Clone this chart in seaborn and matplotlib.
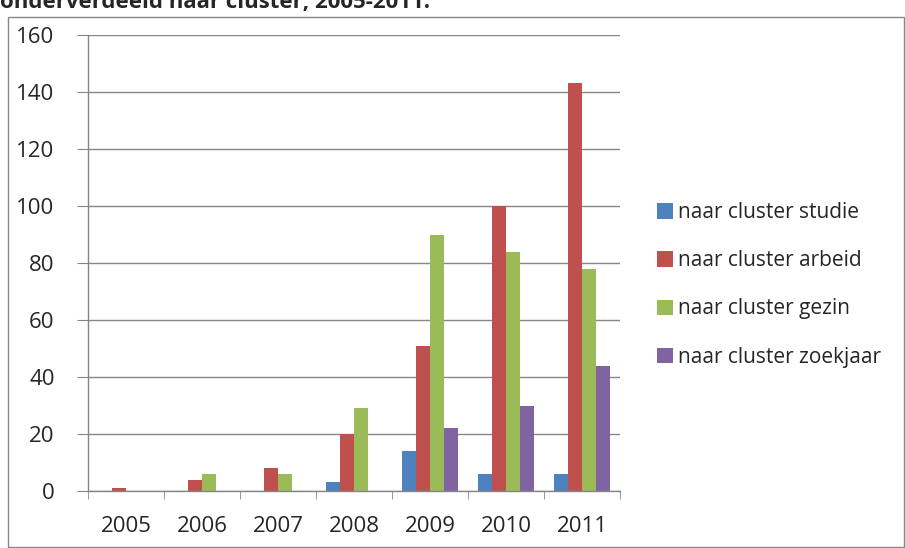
import numpy as np
import pandas as pd
import seaborn as sns
import matplotlib.pyplot as plt
from matplotlib.patches import Rectangle

# data
years = ["2005", "2006", "2007", "2008", "2009", "2010", "2011"]
studie = [0, 0, 0, 3, 14, 6, 6]
arbeid = [1, 4, 8, 20, 51, 100, 143]
gezin = [0, 6, 6, 29, 90, 84, 78]
zoekjaar = [0, 0, 0, 0, 22, 30, 44]
series = ["naar cluster studie", "naar cluster arbeid", "naar cluster gezin", "naar cluster zoekjaar"]
colors = ["#4F81BD", "#C0504D", "#9BBB59", "#8064A2"]

df = pd.DataFrame({"jaar": years * 4,
                   "reeks": np.repeat(series, len(years)),
                   "waarde": studie + arbeid + gezin + zoekjaar})

sns.set_style("white")
plt.rcParams["font.family"] = ["Open Sans", "DejaVu Sans"]

fig = plt.figure(figsize=(9.05, 5.48), dpi=100)
ax = fig.add_axes([88 / 905, 1 - 491 / 548, 532 / 905, 456 / 548])

sns.barplot(data=df, x="jaar", y="waarde", hue="reeks", palette=colors,
            width=0.727, saturation=1, ax=ax, edgecolor="none")

# axes styling
ax.set_ylim(0, 160)
ax.set_yticks(range(0, 161, 20))
ax.set_xlim(-0.5, 6.5)
ax.grid(axis="y", color="#868686", linewidth=1)
ax.set_axisbelow(True)
for s in ["top", "right"]:
    ax.spines[s].set_visible(False)
for s in ["left", "bottom"]:
    ax.spines[s].set_color("#868686")
    ax.spines[s].set_linewidth(1)
ax.set_xticks(np.arange(-0.5, 7, 1), minor=True)
ax.tick_params(axis="x", which="major", length=0, pad=18, labelsize=16)
ax.tick_params(axis="x", which="minor", length=6, color="#868686", direction="out", bottom=True)
ax.tick_params(axis="y", length=8, color="#868686", direction="out", left=True, labelsize=16, pad=16)
ax.set_xlabel("")
ax.set_ylabel("")

leg = ax.legend(loc="center left", bbox_to_anchor=(1.035, 0.452), frameon=False,
                fontsize=15, handlelength=0.75, handleheight=0.75, handletextpad=0.25,
                labelspacing=1.3)

# clipped title and chart border
fig.text(0.0, 1 - 8 / 548, "onderverdeeld naar cluster, 2005-2011.", fontsize=16,
         fontweight="bold", va="baseline", ha="left")
fig.patches.append(Rectangle((8 / 905, 1 / 548), 896 / 905, 530 / 548,
                             transform=fig.transFigure, fill=False,
                             edgecolor="#878787", linewidth=1))

fig.savefig("out.png", dpi=100)
